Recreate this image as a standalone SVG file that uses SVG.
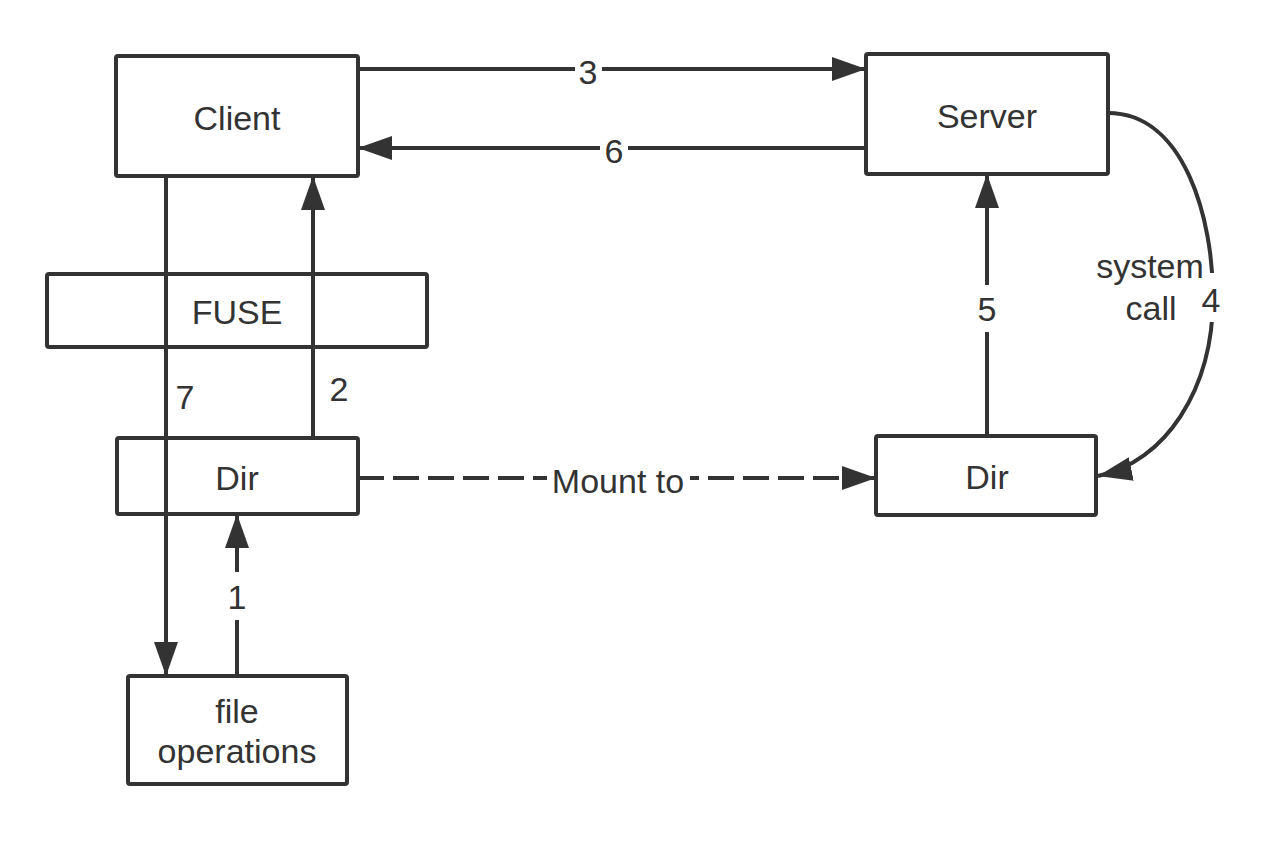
<svg xmlns="http://www.w3.org/2000/svg" width="1280" height="858" viewBox="0 0 1280 858">
<defs>
<style>
.box{fill:#fff;stroke:#333;stroke-width:4}
.t{font-family:"Liberation Sans",Arial,sans-serif;font-size:34px;fill:#333;text-anchor:middle}
.e{fill:none;stroke:#333;stroke-width:4}
.d{stroke-dasharray:26 9}
.bg{fill:#fff}
</style>
<marker id="ah" viewBox="0 0 34 24" refX="34" refY="12" markerWidth="34" markerHeight="24" markerUnits="userSpaceOnUse" orient="auto">
<path d="M0,0 L34,12 L0,24 Z" fill="#333"/>
</marker>
</defs>
<rect width="1280" height="858" fill="#fff"/>
<g id="client"><rect class="box" x="116" y="56" width="242" height="120" rx="2"/><text class="t" x="237" y="130">Client</text></g>
<g id="server"><rect class="box" x="866" y="54" width="242" height="120" rx="2"/><text class="t" x="987" y="128">Server</text></g>
<g id="fuse"><rect class="box" x="47" y="274" width="380" height="73" rx="2"/><text class="t" x="237" y="324">FUSE</text></g>
<g id="dir-left"><rect class="box" x="117" y="438" width="241" height="76" rx="2"/><text class="t" x="237" y="490">Dir</text></g>
<g id="dir-right"><rect class="box" x="876" y="436" width="220" height="79" rx="2"/><text class="t" x="987" y="489">Dir</text></g>
<g id="file-ops"><rect class="box" x="128" y="676" width="219" height="108" rx="2"/><text class="t" x="237" y="723">file</text><text class="t" x="237" y="763">operations</text></g>
<g id="connectors">
<line class="e" x1="358" y1="69" x2="866" y2="69" marker-end="url(#ah)"/>
<rect class="bg" x="575" y="55" width="27" height="30"/><text class="t" x="588" y="84">3</text>
<line class="e" x1="866" y1="148" x2="358" y2="148" marker-end="url(#ah)"/>
<rect class="bg" x="600" y="134" width="28" height="30"/><text class="t" x="614" y="163">6</text>
<line class="e" x1="166" y1="176" x2="166" y2="676" marker-end="url(#ah)"/>
<text class="t" x="185" y="409">7</text>
<line class="e" x1="313" y1="438" x2="313" y2="176" marker-end="url(#ah)"/>
<text class="t" x="339" y="401">2</text>
<line class="e" x1="237" y1="676" x2="237" y2="514" marker-end="url(#ah)"/>
<rect class="bg" x="224" y="572" width="26" height="48"/><text class="t" x="237" y="609">1</text>
<line class="e" x1="987" y1="436" x2="987" y2="174" marker-end="url(#ah)"/>
<rect class="bg" x="974" y="285" width="26" height="47"/><text class="t" x="987" y="321">5</text>
<line class="e d" x1="358" y1="478" x2="876" y2="478" marker-end="url(#ah)"/>
<rect class="bg" x="547" y="460" width="143" height="36"/><text class="t" x="618" y="493">Mount to</text>
<path class="e" d="M1108,113 C1185,113 1213,220 1213,297 C1213,390 1165,462 1098,476" marker-end="url(#ah)"/>
<rect class="bg" x="1198" y="273" width="28" height="49"/><text class="t" x="1211" y="312">4</text>
<text class="t" x="1150" y="278">system</text>
<text class="t" x="1151" y="320">call</text>
</g>
</svg>
